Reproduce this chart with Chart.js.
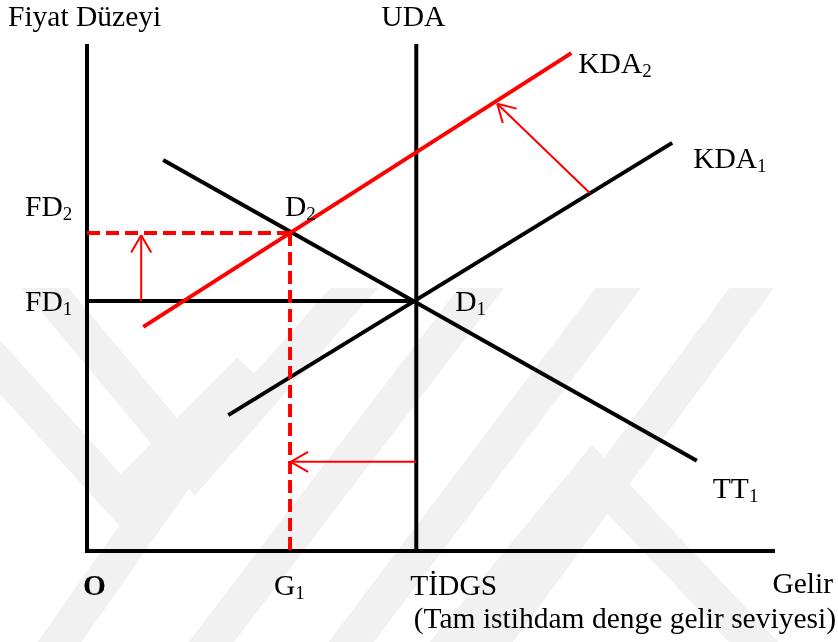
<!DOCTYPE html>
<html>
<head>
<meta charset="utf-8">
<script src="https://cdn.jsdelivr.net/npm/chart.js@4.4.0/dist/chart.umd.min.js"></script>
<style>
  html, body { margin: 0; padding: 0; background: #fff; }
  canvas { display: block; }
</style>
</head>
<body>
<canvas id="chart" width="838" height="642"></canvas>
<script>
// Gelir on x, Fiyat Düzeyi on y, both read on a 0..100 scale
const axisLen = 100;
const tidgs = 48;    // UDA / TİDGS
const g1 = 29.6;
const fd1 = 49.3;
const fd2 = 62.7;

const tt1X = [11.1, 88.9];
const tt1Y = [77.1, 17.8];
const kda1X = [20.6, 85.3];
const kda1Y = [26.8, 80.5];
const kda2X = [8.2, 70.6];
const kda2Y = [44.2, 98.2];

const upArrowX = [7.9, 7.9];
const upArrowY = [fd1, 62.3];
const shiftArrowX = [73.3, 59.8];
const shiftArrowY = [70.6, 88.2];
const leftArrowX = [tidgs, 29.7];
const leftArrowY = [17.6, 17.6];

const RED = '#ff0000';
const BLACK = '#000000';
const FONT = '"Liberation Serif", "Times New Roman", serif';
const MAIN_PX = 29.5;
const SUB_PX = 19;

function pts(xs, ys) {
  return xs.map((x, i) => ({ x: x, y: ys[i] }));
}

function line(xs, ys, color, width, extra) {
  return Object.assign({
    data: pts(xs, ys),
    borderColor: color,
    backgroundColor: color,
    borderWidth: width,
    showLine: true,
    pointRadius: 0,
    fill: false,
    clip: false
  }, extra || {});
}

// faint background watermark (decoration only)
const wmBands = [
  [[30, 270], [195, 468], [370, 270]],
  [[-20, 345], [120, 500], [250, 370]],
  [[495, 270], [190, 670]],
  [[632, 270], [330, 670]],
  [[765, 270], [470, 670]],
  [[430, 670], [593, 472], [780, 670]],
  [[250, 370], [40, 670]]
];

const watermark = {
  id: 'watermark',
  beforeDatasetsDraw(chart) {
    const ctx = chart.ctx;
    ctx.save();
    ctx.beginPath();
    ctx.rect(0, 288, chart.width, chart.height - 288);
    ctx.clip();
    ctx.strokeStyle = '#f1f1f1';
    ctx.lineWidth = 36;
    ctx.lineJoin = 'miter';
    wmBands.forEach(band => {
      ctx.beginPath();
      band.forEach((p, i) => i ? ctx.lineTo(p[0], p[1]) : ctx.moveTo(p[0], p[1]));
      ctx.stroke();
    });
    ctx.restore();
  }
};

const whiteBg = {
  id: 'whiteBg',
  beforeDraw(chart) {
    const ctx = chart.ctx;
    ctx.save();
    ctx.fillStyle = '#fff';
    ctx.fillRect(0, 0, chart.width, chart.height);
    ctx.restore();
  }
};

// open arrow heads at the last point of datasets marked arrow
const arrowHeads = {
  id: 'arrowHeads',
  afterDatasetsDraw(chart) {
    const ctx = chart.ctx;
    chart.data.datasets.forEach((ds, i) => {
      if (!ds.arrow) return;
      const pts = chart.getDatasetMeta(i).data;
      const a = pts[pts.length - 2];
      const b = pts[pts.length - 1];
      const ang = Math.atan2(b.y - a.y, b.x - a.x);
      const len = 20;
      ctx.save();
      ctx.strokeStyle = ds.borderColor;
      ctx.lineWidth = ds.borderWidth;
      ctx.beginPath();
      [Math.PI / 6, -Math.PI / 6].forEach(d => {
        ctx.moveTo(b.x, b.y);
        ctx.lineTo(b.x - len * Math.cos(ang + d), b.y - len * Math.sin(ang + d));
      });
      ctx.stroke();
      ctx.restore();
    });
  }
};

function drawLabel(ctx, text, sub, x, y, opts) {
  opts = opts || {};
  const weight = opts.bold ? 'bold ' : '';
  ctx.font = weight + MAIN_PX + 'px ' + FONT;
  const w = ctx.measureText(text).width;
  ctx.font = SUB_PX + 'px ' + FONT;
  const sw = sub ? ctx.measureText(sub).width : 0;
  let left = x;
  if (opts.align === 'right') left = x - w - sw;
  if (opts.align === 'center') left = x - (w + sw) / 2;
  ctx.textAlign = 'left';
  ctx.textBaseline = 'alphabetic';
  ctx.fillStyle = BLACK;
  ctx.font = weight + MAIN_PX + 'px ' + FONT;
  ctx.fillText(text, left, y);
  if (sub) {
    ctx.font = SUB_PX + 'px ' + FONT;
    ctx.fillText(sub, left + w, y + 4);
  }
}

const labels = {
  id: 'labels',
  afterDraw(chart) {
    const ctx = chart.ctx;
    const xs = chart.scales.x, ys = chart.scales.y;
    const px = v => xs.getPixelForValue(v);
    const py = v => ys.getPixelForValue(v);
    ctx.save();
    drawLabel(ctx, 'Fiyat Düzeyi', '', 8, 26);
    drawLabel(ctx, 'UDA', '', px(tidgs) - 3, 26, { align: 'center' });
    drawLabel(ctx, 'KDA', '2', px(kda2X[1]) + 7, py(kda2Y[1]) + 20);
    drawLabel(ctx, 'KDA', '1', px(kda1X[1]) + 21, py(kda1Y[1]) + 25);
    drawLabel(ctx, 'FD', '2', 25, py(fd2) - 17);
    drawLabel(ctx, 'D', '2', px(g1) - 5, py(fd2) - 17);
    drawLabel(ctx, 'FD', '1', 25, py(fd1) + 10);
    drawLabel(ctx, 'D', '1', px(tidgs) + 39, py(fd1) + 10);
    drawLabel(ctx, 'TT', '1', px(tt1X[1]) + 16, py(tt1Y[1]) + 37);
    const base = py(0) + 44;
    drawLabel(ctx, 'O', '', px(0) - 4, base, { bold: true });
    drawLabel(ctx, 'G', '1', px(g1) - 16, base);
    drawLabel(ctx, 'TİDGS', '', px(tidgs) - 6, base);
    drawLabel(ctx, 'Gelir', '', 833, base - 2, { align: 'right' });
    drawLabel(ctx, '(Tam istihdam denge gelir seviyesi)', '', 836, base + 33, { align: 'right' });
    ctx.restore();
  }
};

const dash = [13, 6];

new Chart(document.getElementById('chart'), {
  type: 'scatter',
  data: {
    datasets: [
      line(upArrowX, upArrowY, RED, 2, { arrow: true }),
      line(shiftArrowX, shiftArrowY, RED, 2, { arrow: true }),
      line(leftArrowX, leftArrowY, RED, 2, { arrow: true }),
      line([0, g1], [fd2, fd2], RED, 4, { borderDash: dash }),
      line([g1, g1], [fd2, 0], RED, 4, { borderDash: dash }),
      line(kda2X, kda2Y, RED, 4),
      line(tt1X, tt1Y, BLACK, 4),
      line(kda1X, kda1Y, BLACK, 4),
      line([0, tidgs], [fd1, fd1], BLACK, 4),
      line([tidgs, tidgs], [0, axisLen], BLACK, 4),
      line([0, 0], [0, axisLen], BLACK, 4),
      line([0, axisLen], [0, 0], BLACK, 4, { borderCapStyle: 'square' })
    ]
  },
  options: {
    responsive: false,
    animation: false,
    events: [],
    layout: { padding: { left: 87, right: 65, top: 44, bottom: 91 } },
    plugins: {
      legend: { display: false },
      tooltip: { enabled: false },
      title: { display: false }
    },
    scales: {
      x: { type: 'linear', min: 0, max: axisLen, display: false },
      y: { type: 'linear', min: 0, max: axisLen, display: false }
    }
  },
  plugins: [whiteBg, watermark, arrowHeads, labels]
});
</script>
</body>
</html>
